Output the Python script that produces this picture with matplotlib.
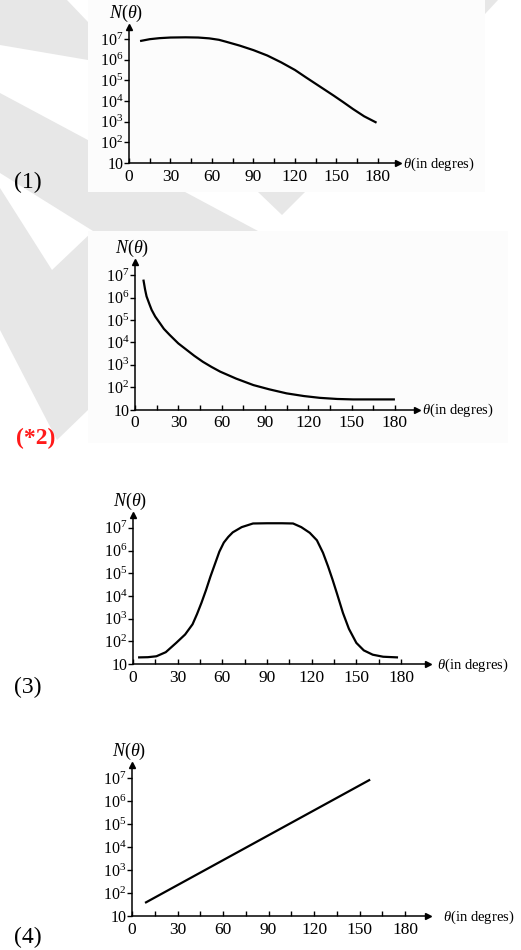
import matplotlib
matplotlib.use('Agg')

import matplotlib.pyplot as plt
from matplotlib.patches import Polygon, Rectangle
from matplotlib.ticker import FixedLocator, NullLocator
import numpy as np

# Data (theta in degrees, N as powers of ten)
theta1 = [8, 15, 22, 30, 41, 50, 58, 65, 70, 80, 90, 100, 110, 120, 128, 138, 148, 155, 162, 170, 179]
logN1 = [6.9, 6.99, 7.04, 7.07, 7.08, 7.07, 7.03, 6.96, 6.87, 6.68, 6.46, 6.2, 5.87, 5.5, 5.14, 4.7,
         4.26, 3.94, 3.61, 3.26, 2.95]

theta2 = [5.8, 7, 8, 10, 11.5, 14, 17.3, 20, 24, 30, 35.8, 41, 47, 53, 59, 70, 82, 93, 105, 117, 128,
          140, 151, 165, 180]
logN2 = [6.8, 6.35, 6.05, 5.7, 5.45, 5.15, 4.85, 4.6, 4.33, 3.95, 3.66, 3.4, 3.13, 2.9, 2.69, 2.38,
         2.09, 1.9, 1.72, 1.6, 1.52, 1.47, 1.45, 1.45, 1.45]

theta3 = [3.4, 10, 15.7, 22, 29, 35, 40, 43, 46, 49, 52, 55, 58, 61, 64, 67, 73, 80.6, 90, 100, 107.5,
          113, 118.7, 123.5, 127.6, 131, 134, 137, 141, 145, 150, 155, 161, 168, 178]
logN3 = [1.29, 1.3, 1.34, 1.52, 1.93, 2.3, 2.75, 3.2, 3.7, 4.25, 4.85, 5.4, 5.95, 6.35, 6.6, 6.8, 7.03,
         7.19, 7.2, 7.2, 7.19, 7.03, 6.78, 6.45, 5.9, 5.3, 4.72, 4.1, 3.25, 2.55, 1.93, 1.6, 1.41, 1.32,
         1.29]

theta4 = [8.6, 157]
logN4 = [1.57, 6.93]

panel_labels = ['(1)', '(*2)', '(3)', '(4)']
y_ticks = [10, 1e2, 1e3, 1e4, 1e5, 1e6, 1e7]
y_ticklabels = ['10'] + [r'$\mathregular{10^{%d}}$' % k for k in range(2, 8)]
x_ticks = list(range(0, 181, 15))
x_ticklabels = [str(t) if t % 30 == 0 else '' for t in x_ticks]

plt.rcParams['font.family'] = 'Liberation Serif'
plt.rcParams['mathtext.fontset'] = 'custom'
plt.rcParams['mathtext.rm'] = 'Liberation Serif'
plt.rcParams['mathtext.it'] = 'Liberation Serif:italic'

W, H = 521, 950
fig = plt.figure(figsize=(W / 100, H / 100), dpi=100)
fig.patch.set_facecolor('white')


def fx(x):
    return x / W


def fy(y):
    return 1 - y / H


# faint watermark shapes behind the panels
gray = '#e7e7e7'
shapes = [
    [(0, 0), (67, 0), (88, 22), (88, 60), (0, 45)],
    [(0, 93), (258, 231), (93, 231), (0, 173)],
    [(0, 188), (52, 270), (93, 231), (88, 410), (57, 440), (0, 330)],
    [(258, 192), (305, 192), (282, 215)],
    [(485, 0), (498, 0), (485, 14)],
]
for pts in shapes:
    fig.patches.append(Polygon([(fx(a), fy(b)) for a, b in pts], closed=True, facecolor=gray,
                               edgecolor='none', transform=fig.transFigure, zorder=-2))
for (x0, y0, x1, y1) in [(88, 0, 485, 192), (88, 231, 508, 443)]:
    fig.patches.append(Rectangle((fx(x0), fy(y1)), fx(x1 - x0), (y1 - y0) / H, facecolor='#fcfcfc',
                                 edgecolor='none', transform=fig.transFigure, zorder=-1))

# pixel geometry of each panel: left, bottom, px per degree, px per decade, x max
layout = [
    (129, 163, 1.383, 20.67, 194.5),
    (135, 409.5, 1.444, 22.4, 195),
    (133, 664, 1.489, 22.7, 198),
    (132, 916, 1.517, 23.0, 195),
]
curves = [(theta1, logN1), (theta2, logN2), (theta3, logN3), (theta4, logN4)]
label_xy = [(28, 182), (36, 438), (28, 687), (28, 937)]
xlabel_x = [403, 422, 437, 443]
ytop = 7.58

for i, ((left, bottom, ppd, ppdec, xmax), (th, lg)) in enumerate(zip(layout, curves)):
    width = xmax * ppd
    height = (ytop - 1) * ppdec
    ax = fig.add_axes([fx(left), fy(bottom), width / W, height / H])
    ax.set_zorder(2)
    ax.patch.set_alpha(0)

    ax.plot(th, 10 ** np.array(lg), color='black', lw=1.6, solid_capstyle='butt',
            solid_joinstyle='round')

    ax.set_yscale('log')
    ax.set_xlim(0, xmax)
    ax.set_ylim(10, 10 ** ytop)
    for s in ['top', 'right']:
        ax.spines[s].set_visible(False)
    for s in ['left', 'bottom']:
        ax.spines[s].set_linewidth(1.1)

    ax.yaxis.set_major_locator(FixedLocator(y_ticks))
    ax.yaxis.set_minor_locator(NullLocator())
    ax.set_yticklabels(y_ticklabels)
    ax.set_xticks(x_ticks)
    ax.set_xticklabels(x_ticklabels)
    ax.tick_params(axis='y', direction='out', length=3.5, width=1, pad=0.5, labelsize=11.5)
    ax.tick_params(axis='x', direction='in', length=3.5, width=1, pad=4, labelsize=12.5)

    # arrow heads
    ax.plot(1, 10, '>', color='black', ms=4.5, transform=ax.get_yaxis_transform(), clip_on=False)
    ax.plot(0, 1, '^', color='black', ms=4.5, transform=ax.get_xaxis_transform(), clip_on=False)

    ax.annotate(r'$N(\theta)$', xy=(0, 1), xycoords='axes fraction', xytext=(-2, 9.5),
                textcoords='offset points', ha='center', va='center', fontsize=13)
    fig.text(fx(xlabel_x[i]), fy(bottom + 1), r'$\theta$(in degres)', ha='left', va='center',
             fontsize=10.5)

    lx, ly = label_xy[i]
    if i == 1:
        fig.text(fx(lx), fy(ly), panel_labels[i], ha='center', va='center', fontsize=17,
                 color='#ff1a1a', fontweight='bold')
    else:
        fig.text(fx(lx), fy(ly), panel_labels[i], ha='center', va='center', fontsize=17)

fig.savefig('out.png', dpi=100)
